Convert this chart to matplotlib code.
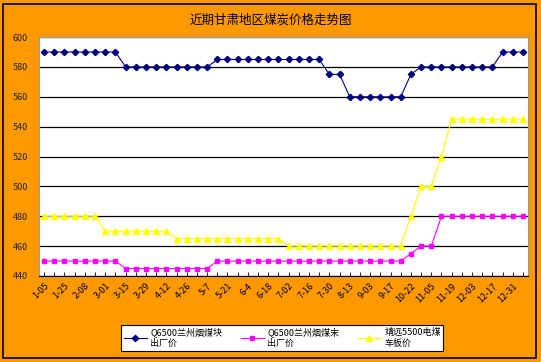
import matplotlib
matplotlib.use('Agg')
import matplotlib.pyplot as plt
from matplotlib.patches import Rectangle

plt.rcParams['font.family'] = ['Noto Sans CJK SC', 'DejaVu Sans']

# 日期标签（每两周一个）
fechas = ['1-05', '1-25', '2-08', '3-01', '3-15', '3-29', '4-12', '4-26',
          '5-7', '5-21', '6-4', '6-18', '7-02', '7-16', '7-30', '8-13',
          '9-03', '9-17', '10-22', '11-05', '11-19', '12-03', '12-17', '12-31']

# 三个系列，每周一个点
kuai = [590] * 8 + [580] * 9 + [585] * 11 + [575] * 2 + [560] * 6 + [575] + [580] * 8 + [590] * 3
mo = [450] * 8 + [445] * 9 + [450] * 19 + [455] + [460] * 2 + [480] * 9
dianmei = [480] * 6 + [470] * 7 + [465] * 11 + [460] * 12 + [480] + [500] * 2 + [520] + [545] * 8

nombres = ['Q6500兰州烟煤块\n出厂价', 'Q6500兰州烟煤末\n出厂价', '靖远5500电煤\n车板价']

naranja = '#FF9900'
figura = plt.figure(figsize=(5.41, 3.62), dpi=100, facecolor=naranja)
figura.patches.append(Rectangle((0.006, 0.011), 0.984, 0.978, transform=figura.transFigure,
                                fill=False, edgecolor='black', linewidth=1.2))

ejes = figura.add_axes([0.0721, 0.2376, 0.904, 0.660])
ejes.set_facecolor('white')

x = list(range(len(kuai)))
ejes.plot(x, kuai, color='#000080', marker='D', markersize=3.2, linewidth=0.8, label=nombres[0])
ejes.plot(x, mo, color='#FF00FF', marker='s', markersize=3.5, linewidth=0.8, label=nombres[1])
ejes.plot(x, dianmei, color='#FFFF00', marker='^', markersize=4, linewidth=0.8, label=nombres[2])

ejes.set_xlim(-0.5, len(kuai) - 0.5)
ejes.set_ylim(440, 600)
ejes.set_yticks(range(440, 601, 20))
ejes.yaxis.grid(True, color='black', linewidth=0.9)
ejes.set_axisbelow(True)
ejes.tick_params(axis='y', length=0, pad=8, labelsize=6.5, labelcolor='#222222')

ejes.set_xticks(range(0, len(kuai), 2))
ejes.set_xticklabels(fechas, rotation=45, ha='right', rotation_mode='anchor', fontsize=6.5)
ejes.set_xticks(range(len(kuai)), minor=True)
ejes.tick_params(axis='x', which='both', direction='in', length=3, width=0.6, pad=4)

for lado in ['left', 'right', 'top']:
    ejes.spines[lado].set_color('#999999')
    ejes.spines[lado].set_linewidth(0.8)
ejes.spines['bottom'].set_color('black')

figura.text(0.5, 0.944, '近期甘肃地区煤炭价格走势图', ha='center', va='center', fontsize=9)

leyenda = figura.legend(loc='lower left', bbox_to_anchor=(0.216, 0.019, 0.612, 0.075),
                        ncol=3, fontsize=6.5, frameon=True, fancybox=False,
                        edgecolor='black', framealpha=1, handlelength=2.5,
                        borderpad=0.3, columnspacing=0.8, handletextpad=0.4, mode='expand')
leyenda.get_frame().set_linewidth(0.8)

figura.savefig('out.png', dpi=100, facecolor=naranja)
plt.close(figura)
